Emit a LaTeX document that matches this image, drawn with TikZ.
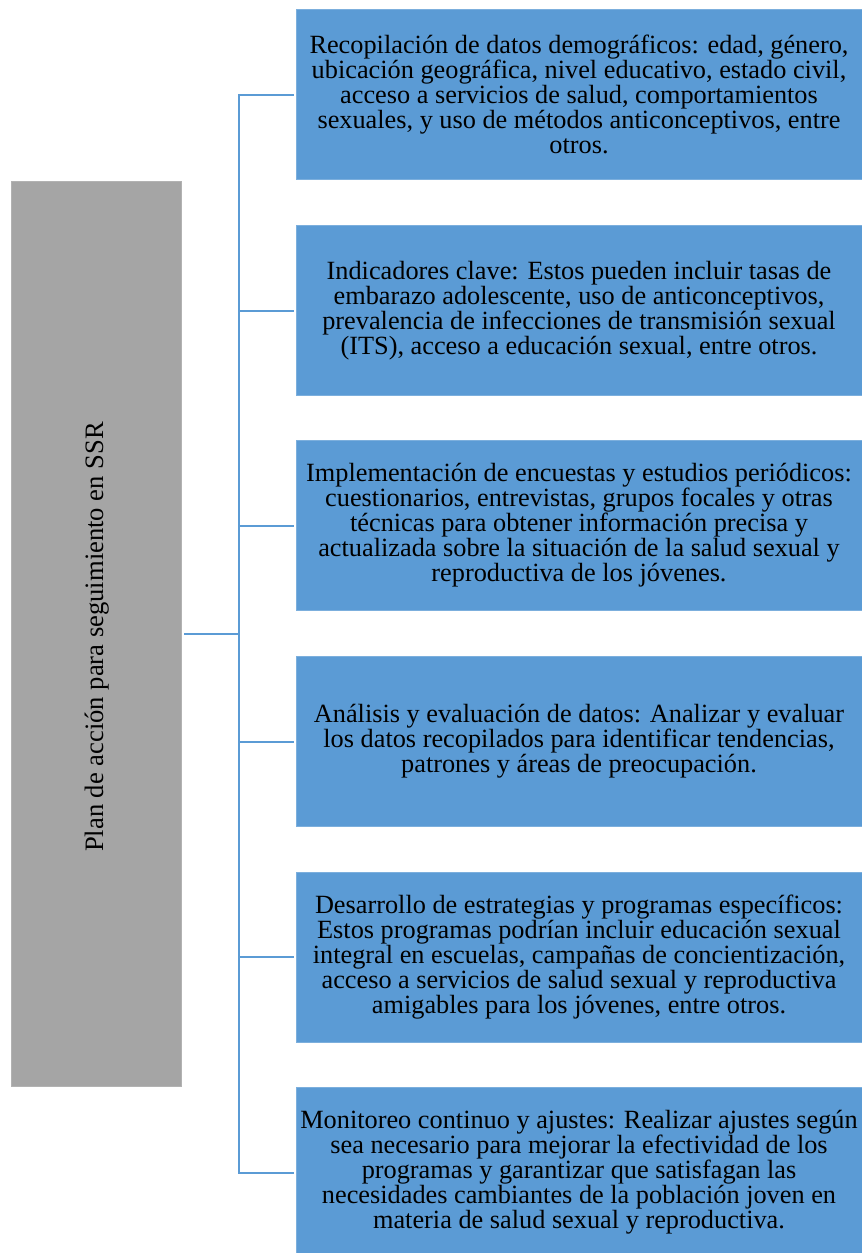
\documentclass[tikz,border=0pt]{standalone}
\usepackage{fontspec}
\setmainfont{Liberation Serif}
\definecolor{boxblue}{HTML}{5B9BD5}
\definecolor{boxgray}{HTML}{A5A5A5}
\hyphenpenalty=10000
\exhyphenpenalty=10000
\begin{document}
\begin{tikzpicture}[x=1pt,y=-1pt,
  bluebox/.style={fill=boxblue,draw=boxblue!80!white,line width=0.8pt,minimum width=566pt,minimum height=170pt,align=center,inner sep=0pt,font=\fontsize{26.3}{25}\selectfont},
  conn/.style={draw=boxblue,line width=2pt}]
\useasboundingbox (0,0) rectangle (862,1253);
\node[fill=boxgray,draw=boxgray!85!white,minimum width=170pt,minimum height=905pt,inner sep=0pt] (root) at (96,633.5) {};
\node[rotate=90,font=\fontsize{26.6}{28}\selectfont] (rootlabel) at (97,637) {Plan de acción para seguimiento en SSR};
\node[bluebox] (b1) at (579,94.5) {Recopilación de datos demográficos: edad, género,\\ubicación geográfica, nivel educativo, estado civil,\\acceso a servicios de salud, comportamientos\\sexuales, y uso de métodos anticonceptivos, entre\\otros.};
\node[bluebox] (b2) at (579,310.5) {Indicadores clave: Estos pueden incluir tasas de\\embarazo adolescente, uso de anticonceptivos,\\prevalencia de infecciones de transmisión sexual\\(ITS), acceso a educación sexual, entre otros.};
\node[bluebox] (b3) at (579,525.5) {Implementación de encuestas y estudios periódicos:\\cuestionarios, entrevistas, grupos focales y otras\\técnicas para obtener información precisa y\\actualizada sobre la situación de la salud sexual y\\reproductiva de los jóvenes.};
\node[bluebox] (b4) at (579,741.5) {Análisis y evaluación de datos: Analizar y evaluar\\los datos recopilados para identificar tendencias,\\patrones y áreas de preocupación.};
\node[bluebox] (b5) at (579,957) {Desarrollo de estrategias y programas específicos:\\Estos programas podrían incluir educación sexual\\integral en escuelas, campañas de concientización,\\acceso a servicios de salud sexual y reproductiva\\amigables para los jóvenes, entre otros.};
\node[bluebox] (b6) at (579,1172) {Monitoreo continuo y ajustes: Realizar ajustes según\\sea necesario para mejorar la efectividad de los\\programas y garantizar que satisfagan las\\necesidades cambiantes de la población joven en\\materia de salud sexual y reproductiva.};
\coordinate (hub) at (239,633.5);
\draw[conn] ([xshift=3pt]root.east) -- (hub);
\foreach \b in {b1,b2,b3,b4,b5}{
  \draw[conn] (hub) |- ([xshift=-2pt]\b.west);
}
\draw[conn] (hub) |- ([xshift=-2pt,yshift=-1pt]b6.west);
\end{tikzpicture}
\end{document}
